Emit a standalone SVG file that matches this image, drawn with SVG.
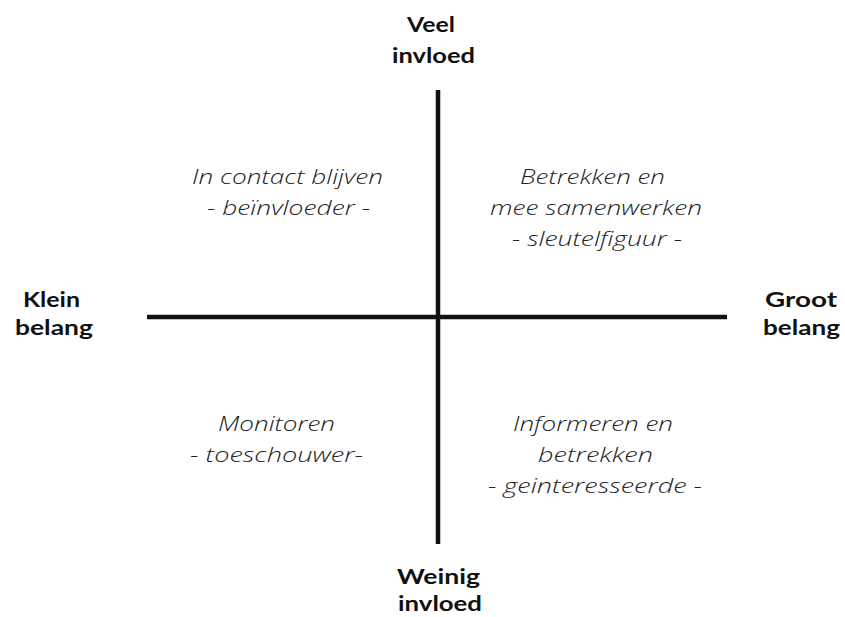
<svg xmlns="http://www.w3.org/2000/svg" width="845" height="617" viewBox="0 0 845 617">
<style>
.ax{font-family:"Lato","Liberation Sans",sans-serif;font-weight:bold;font-size:20px;fill:#111}
.q{font-family:"Open Sans","Liberation Sans",sans-serif;font-style:italic;font-weight:300;font-size:20px;fill:#222}
.ln{stroke:#111;stroke-width:4.5;fill:none}
</style>
<rect width="845" height="617" fill="#fff"/>
<g id="connectors">
<line class="ln" x1="438" y1="90" x2="438" y2="544"/>
<line class="ln" x1="147" y1="317" x2="727" y2="317"/>
</g>
<g id="top"><text class="ax" x="407" y="32" textLength="48" lengthAdjust="spacingAndGlyphs">Veel</text><text class="ax" x="392" y="63" textLength="83" lengthAdjust="spacingAndGlyphs">invloed</text></g>
<g id="bottom"><text class="ax" x="397" y="584" textLength="83" lengthAdjust="spacingAndGlyphs">Weinig</text><text class="ax" x="398" y="611" textLength="84" lengthAdjust="spacingAndGlyphs">invloed</text></g>
<g id="left"><text class="ax" x="23" y="307" textLength="57" lengthAdjust="spacingAndGlyphs">Klein</text><text class="ax" x="15" y="335" textLength="78" lengthAdjust="spacingAndGlyphs">belang</text></g>
<g id="right"><text class="ax" x="765" y="307" textLength="72" lengthAdjust="spacingAndGlyphs">Groot</text><text class="ax" x="763" y="335" textLength="77" lengthAdjust="spacingAndGlyphs">belang</text></g>
<g id="q1"><text class="q" x="192" y="184" textLength="191" lengthAdjust="spacingAndGlyphs">In contact blijven</text><text class="q" x="207" y="215" textLength="163" lengthAdjust="spacingAndGlyphs">- beïnvloeder -</text></g>
<g id="q2"><text class="q" x="520" y="184" textLength="145" lengthAdjust="spacingAndGlyphs">Betrekken en</text><text class="q" x="490" y="215" textLength="212" lengthAdjust="spacingAndGlyphs">mee samenwerken</text><text class="q" x="512" y="246" textLength="170" lengthAdjust="spacingAndGlyphs">- sleutelfiguur -</text></g>
<g id="q3"><text class="q" x="218" y="431" textLength="117" lengthAdjust="spacingAndGlyphs">Monitoren</text><text class="q" x="190" y="462" textLength="173" lengthAdjust="spacingAndGlyphs">- toeschouwer-</text></g>
<g id="q4"><text class="q" x="513" y="431" textLength="160" lengthAdjust="spacingAndGlyphs">Informeren en</text><text class="q" x="538" y="462" textLength="115" lengthAdjust="spacingAndGlyphs">betrekken</text><text class="q" x="488" y="493" textLength="214" lengthAdjust="spacingAndGlyphs">- geinteresseerde -</text></g>
</svg>
